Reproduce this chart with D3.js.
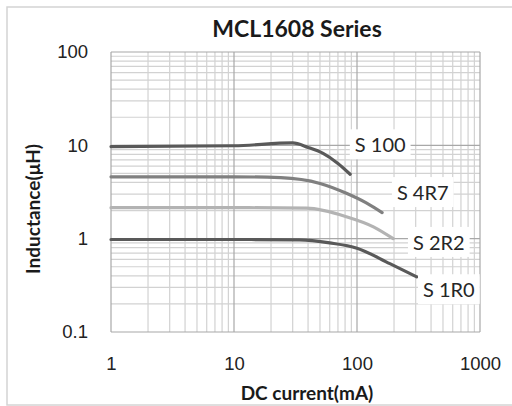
<!DOCTYPE html>
<html lang="en">
<head>
<meta charset="UTF-8">
<title>MCL1608 Series</title>
<script src="https://d3js.org/d3.v7.min.js"></script>
<style>
  body { margin: 0; background: #fff; }
</style>
</head>
<body>
<script>
    // 数据：各型号的直流电流(mA)与电感(μH)
    var seriesNames = ['S 100', 'S 4R7', 'S 2R2', 'S 1R0'];
    var s100Current = [1, 10, 30, 40, 53, 70, 88];
    var s100Induct  = [9.7, 9.9, 10.6, 9.5, 8.2, 6.4, 4.9];
    var s4r7Current = [1, 10, 24, 50, 82, 120, 160];
    var s4r7Induct  = [4.6, 4.6, 4.5, 3.9, 3.06, 2.4, 1.9];
    var s2r2Current = [1, 10, 39, 82, 136, 197];
    var s2r2Induct  = [2.15, 2.15, 2.12, 1.72, 1.34, 1.0];
    var s1r0Current = [1, 10, 34, 60, 100, 185, 306];
    var s1r0Induct  = [0.98, 0.98, 0.97, 0.9, 0.79, 0.54, 0.39];
    // 标签所在的数据坐标 (mA, μH)
    var labelCurrent = [96, 211, 285, 344];
    var labelInduct  = [10, 3.08, 0.9, 0.28];
    var xTicks = [1, 10, 100, 1000];
    var yTicks = [0.1, 1, 10, 100];

    var width = 512, height = 406;
    var margin = {top: 52, right: 32, bottom: 74, left: 111};
    var colors = ['#595959', '#808080', '#b3b3b3', '#595959'];

    var svg = d3.select('body').append('svg')
        .attr('width', width)
        .attr('height', height);

    // 外框
    svg.append('rect')
        .attr('x', 7).attr('y', 7)
        .attr('width', width).attr('height', height - 1 - 7)
        .attr('fill', 'none')
        .attr('stroke', '#d4d4d4')
        .attr('stroke-width', 1.5);

    var x = d3.scaleLog().domain([1, 1000]).range([margin.left, width - margin.right]);
    var y = d3.scaleLog().domain([0.1, 100]).range([height - margin.bottom, margin.top]);

    // 网格线
    var minorX = [], minorY = [];
    [1, 10, 100].forEach(function(d) {
        for (var k = 2; k <= 9; k++) minorX.push(d * k);
    });
    [0.1, 1, 10].forEach(function(d) {
        for (var k = 2; k <= 9; k++) minorY.push(d * k);
    });
    var grid = svg.append('g');
    grid.selectAll('.vx').data(minorX).enter().append('line')
        .attr('x1', function(d) { return x(d) }).attr('x2', function(d) { return x(d) })
        .attr('y1', y(0.1)).attr('y2', y(100))
        .attr('stroke', '#d2d2d2').attr('stroke-width', 1.2);
    grid.selectAll('.hy').data(minorY).enter().append('line')
        .attr('y1', function(d) { return y(d) }).attr('y2', function(d) { return y(d) })
        .attr('x1', x(1)).attr('x2', x(1000))
        .attr('stroke', '#d2d2d2').attr('stroke-width', 1.2);
    grid.selectAll('.mx').data(xTicks).enter().append('line')
        .attr('x1', function(d) { return x(d) }).attr('x2', function(d) { return x(d) })
        .attr('y1', y(0.1)).attr('y2', y(100))
        .attr('stroke', '#a8a8a8').attr('stroke-width', 1.2);
    grid.selectAll('.my').data(yTicks).enter().append('line')
        .attr('y1', function(d) { return y(d) }).attr('y2', function(d) { return y(d) })
        .attr('x1', x(1)).attr('x2', x(1000))
        .attr('stroke', '#a8a8a8').attr('stroke-width', 1.2);

    // 坐标轴文字
    var xAxis = svg.append('g')
        .attr('transform', 'translate(0,' + (height - margin.bottom + 22) + ')')
        .call(d3.axisBottom(x).tickValues(xTicks).tickFormat(d3.format('d')).tickSize(0));
    var yAxis = svg.append('g')
        .attr('transform', 'translate(' + (margin.left - 20) + ',0)')
        .call(d3.axisLeft(y).tickValues(yTicks).tickFormat(function(d) { return d }).tickSize(0));
    [xAxis, yAxis].forEach(function(a) {
        a.select('.domain').remove();
        a.selectAll('text')
            .attr('font-family', '"Liberation Sans", Arial, sans-serif')
            .attr('font-size', '18.5px')
            .attr('fill', '#222');
    });

    // 曲线
    var currents = [s100Current, s4r7Current, s2r2Current, s1r0Current];
    var inducts = [s100Induct, s4r7Induct, s2r2Induct, s1r0Induct];
    var line = d3.line()
        .x(function(d) { return x(d[0]) })
        .y(function(d) { return y(d[1]) })
        .curve(d3.curveMonotoneX);
    seriesNames.forEach(function(name, i) {
        var pts = currents[i].map(function(c, j) { return [c, inducts[i][j]] });
        svg.append('path')
            .attr('d', line(pts))
            .attr('fill', 'none')
            .attr('stroke', colors[i])
            .attr('stroke-width', 3.2)
            .attr('stroke-linecap', 'round');
    });

    // 系列标签（白底）
    seriesNames.forEach(function(name, i) {
        var g = svg.append('g');
        var t = g.append('text')
            .attr('x', x(labelCurrent[i]))
            .attr('y', y(labelInduct[i]))
            .attr('dy', '0.35em')
            .attr('font-family', 'Lato, "Open Sans", sans-serif')
            .attr('font-size', '20px')
            .attr('fill', '#262626')
            .text(name);
        var bb = t.node().getBBox();
        g.insert('rect', 'text')
            .attr('x', bb.x - 5).attr('y', bb.y - 3)
            .attr('width', bb.width + 10).attr('height', bb.height + 6)
            .attr('fill', '#fff');
    });

    // 标题
    svg.append('text')
        .attr('x', 297).attr('y', 37)
        .attr('text-anchor', 'middle')
        .attr('font-family', 'Lato, "Open Sans", sans-serif')
        .attr('font-weight', 'bold')
        .attr('font-size', '23px')
        .attr('fill', '#1a1a1a')
        .text('MCL1608 Series');

    svg.append('text')
        .attr('x', 307).attr('y', 400)
        .attr('text-anchor', 'middle')
        .attr('font-family', 'Lato, "Open Sans", sans-serif')
        .attr('font-weight', 'bold')
        .attr('font-size', '19px')
        .attr('fill', '#1a1a1a')
        .text('DC current(mA)');

    svg.append('text')
        .attr('transform', 'translate(40,209) rotate(-90)')
        .attr('text-anchor', 'middle')
        .attr('font-family', 'Lato, "Open Sans", sans-serif')
        .attr('font-weight', 'bold')
        .attr('font-size', '19px')
        .attr('fill', '#1a1a1a')
        .text('Inductance(μH)');
</script>
</body>
</html>
